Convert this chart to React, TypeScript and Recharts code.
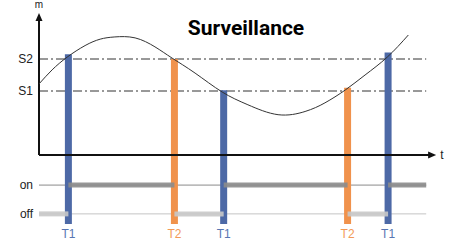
import React from 'react';
import {
  ComposedChart,
  Line,
  XAxis,
  YAxis,
  ReferenceLine,
} from 'recharts';

const CURVE_T = [0, 3.3, 7.1, 11.6, 15.4, 19.1, 24.2, 29.2, 33.5, 39.3, 46.1, 52.6, 60.2, 67.0, 72.0, 77.1, 82.1, 87.7, 93.0];
const CURVE_V = [2.22, 2.66, 3.06, 3.42, 3.62, 3.69, 3.66, 3.38, 3.03, 2.56, 1.97, 1.57, 1.26, 1.36, 1.63, 2.03, 2.5, 3.06, 3.75];

// Thresholds
const THRESHOLD_LABELS = ['S1', 'S2'];
const THRESHOLD_VALUES = [2, 3];

// Switching events
const EVENT_T = [7.4, 34.1, 46.5, 77.7, 87.9];
const EVENT_TOP = [3.15, 3.0, 2.02, 2.1, 3.2];
const EVENT_LABELS = ['T1', 'T2', 'T1', 'T2', 'T1'];

// State lanes
const LANE_LABELS = ['off', 'on'];
const LANE_VALUES = [-1.84, -0.94];

const T_END = 97.5;
const AXIS_T_END = 100;
const AXIS_M_TOP = 4.44;
const BAR_BOTTOM = -2.156;

const data = CURVE_T.map((t, i) => ({ t, v: CURVE_V[i] }));

const BLUE = '#4d69a6';
const ORANGE = '#f0924c';
const BLUE_TXT = '#5876b2';
const ORANGE_TXT = '#f29a58';
const FONT = '"Liberation Sans", Arial, Helvetica, sans-serif';

const colorOf = (label: string) => (label === 'T1' ? BLUE : ORANGE);

// segments of on / off states derived from events
const onSegs: [number, number][] = [];
const offSegs: [number, number][] = [];
{
  let start = 0;
  let state = 'off';
  EVENT_T.forEach((t, i) => {
    if (state === 'off') offSegs.push([start, t]);
    else onSegs.push([start, t]);
    state = EVENT_LABELS[i] === 'T1' ? 'on' : 'off';
    start = t;
  });
  if (state === 'off') offSegs.push([start, T_END]);
  else onSegs.push([start, T_END]);
}

const tickLabel = (v: number) => {
  const li = LANE_VALUES.indexOf(v);
  if (li >= 0) return LANE_LABELS[li];
  const si = THRESHOLD_VALUES.indexOf(v);
  if (si >= 0) return THRESHOLD_LABELS[si];
  return '';
};

const ArrowX = (label: string) => (props: any) => {
  const { x1, y1, x2, y2 } = props;
  return (
    <g>
      <line x1={x1} y1={y1} x2={x2 - 5} y2={y2} stroke="#111" strokeWidth={2} />
      <polygon points={`${x2},${y2} ${x2 - 8},${y2 - 3.5} ${x2 - 8},${y2 + 3.5}`} fill="#111" />
      <text x={x2 + 4} y={y2 + 4} fontSize={12} fontFamily={FONT} fill="#222">{label}</text>
    </g>
  );
};

const ArrowY = (label: string) => (props: any) => {
  const { x1, y1, x2, y2 } = props;
  return (
    <g>
      <line x1={x1} y1={y1} x2={x2} y2={y2 + 5} stroke="#111" strokeWidth={2} />
      <polygon points={`${x2},${y2} ${x2 - 3.5},${y2 + 8} ${x2 + 3.5},${y2 + 8}`} fill="#111" />
      <text x={x2} y={y2 - 5} fontSize={10} fontFamily={FONT} fill="#222" textAnchor="middle">{label}</text>
    </g>
  );
};

const EventTick = (props: any) => {
  const { x, y, payload } = props;
  const idx = EVENT_T.indexOf(payload.value);
  const label = idx >= 0 ? EVENT_LABELS[idx] : '';
  return (
    <text x={x} y={y + 6} textAnchor="middle" fontSize={12} fontFamily={FONT}
      fill={label === 'T1' ? BLUE_TXT : ORANGE_TXT}>
      {label}
    </text>
  );
};

export default function App() {
  return (
    <div style={{ position: 'fixed', left: 0, top: 0, width: 456, height: 250, background: '#fff' }}>
      <ComposedChart
        width={456}
        height={250}
        data={data}
        margin={{ top: 0, right: 0, bottom: 0, left: 0 }}
      >
        <XAxis
          dataKey="t"
          type="number"
          domain={[0, 105]}
          ticks={EVENT_T}
          interval={0}
          axisLine={false}
          tickLine={false}
          height={26}
          tick={<EventTick />}
          allowDataOverflow
        />
        <YAxis
          type="number"
          domain={[BAR_BOTTOM, 4.844]}
          ticks={[...LANE_VALUES, ...THRESHOLD_VALUES]}
          interval={0}
          width={39}
          axisLine={false}
          tickLine={false}
          tickSize={0}
          tickMargin={6}
          tickFormatter={tickLabel}
          tick={{ fontSize: 12, fill: '#222', fontFamily: FONT }}
          allowDataOverflow
        />

        {THRESHOLD_VALUES.map((v) => (
          <ReferenceLine
            key={'th' + v}
            segment={[{ x: 0, y: v }, { x: T_END, y: v }]}
            stroke="#333"
            strokeWidth={1}
            strokeDasharray="9 3 2 3"
            ifOverflow="visible"
          />
        ))}

        {LANE_VALUES.map((v, i) => (
          <ReferenceLine
            key={'lane' + v}
            segment={[{ x: 0, y: v }, { x: T_END, y: v }]}
            stroke={i === 0 ? '#c4c4c4' : '#8a8a8a'}
            strokeWidth={1}
            ifOverflow="visible"
          />
        ))}

        {EVENT_T.map((t, i) => (
          <ReferenceLine
            key={'ev' + i}
            segment={[{ x: t, y: EVENT_TOP[i] }, { x: t, y: BAR_BOTTOM }]}
            stroke={colorOf(EVENT_LABELS[i])}
            strokeWidth={7}
            ifOverflow="visible"
          />
        ))}

        {onSegs.map(([a, b], i) => (
          <ReferenceLine
            key={'on' + i}
            segment={[{ x: a, y: LANE_VALUES[1] }, { x: b, y: LANE_VALUES[1] }]}
            stroke="#8c8c8c"
            strokeWidth={5}
            strokeOpacity={0.9}
            ifOverflow="visible"
          />
        ))}
        {offSegs.map(([a, b], i) => (
          <ReferenceLine
            key={'off' + i}
            segment={[{ x: a, y: LANE_VALUES[0] }, { x: b, y: LANE_VALUES[0] }]}
            stroke="#c8c8c8"
            strokeWidth={5}
            strokeOpacity={0.9}
            ifOverflow="visible"
          />
        ))}

        <ReferenceLine
          segment={[{ x: 0, y: 0 }, { x: AXIS_T_END, y: 0 }]}
          shape={ArrowX('t')}
          ifOverflow="visible"
        />
        <ReferenceLine
          segment={[{ x: 0, y: 0 }, { x: 0, y: AXIS_M_TOP }]}
          shape={ArrowY('m')}
          ifOverflow="visible"
        />

        <Line
          type="natural"
          dataKey="v"
          stroke="#333"
          strokeWidth={1}
          dot={false}
          activeDot={false}
          isAnimationActive={false}
        />
      </ComposedChart>
      <div
        style={{
          position: 'absolute',
          left: 146,
          top: 18,
          width: 200,
          textAlign: 'center',
          fontFamily: 'Roboto, "Liberation Sans", Arial, sans-serif',
          fontWeight: 'bold',
          fontSize: 21,
          lineHeight: '21px',
          color: '#000',
        }}
      >
        Surveillance
      </div>
    </div>
  );
}
